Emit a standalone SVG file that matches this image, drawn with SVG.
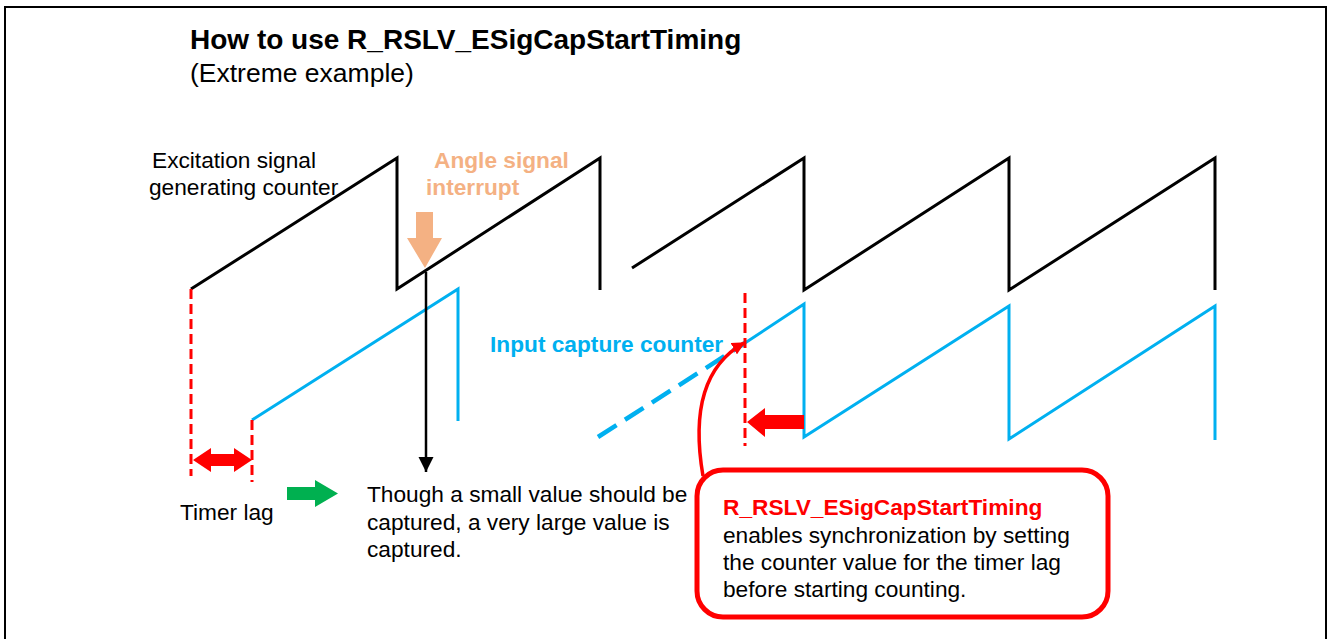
<svg xmlns="http://www.w3.org/2000/svg" width="1328" height="639" viewBox="0 0 1328 639">
<style>
  text { font-family: "Liberation Sans", Arial, sans-serif; font-size: 22.7px; fill: #000; }
  .b { font-weight: bold; }
  .blk { fill: none; stroke: #000; stroke-width: 3; stroke-linejoin: miter; }
  .blu { fill: none; stroke: #00B0F0; stroke-width: 3; }
  .blud { fill: none; stroke: #00B0F0; stroke-width: 4.5; stroke-dasharray: 22 10; }
  .rdash { fill: none; stroke: #FF0000; stroke-width: 3; stroke-dasharray: 10 5; }
</style>
<defs>
  <marker id="blackHead" viewBox="0 0 10 10" refX="10" refY="5" markerWidth="15" markerHeight="16" markerUnits="userSpaceOnUse" orient="auto">
    <path d="M0,0 L10,5 L0,10 z" fill="#000"/>
  </marker>
  <marker id="redHead" viewBox="0 0 10 10" refX="9" refY="5" markerWidth="13" markerHeight="13" markerUnits="userSpaceOnUse" orient="auto">
    <path d="M0,0 L10,5 L0,10 z" fill="#FF0000"/>
  </marker>
</defs>
<rect x="5" y="7" width="1321" height="650" fill="#fff" stroke="#000" stroke-width="2"/>

<g id="title">
  <text class="b" x="190" y="49" style="font-size:28px">How to use R_RSLV_ESigCapStartTiming</text>
  <text x="190" y="82" style="font-size:26.5px">(Extreme example)</text>
</g>

<g id="excitation-counter">
  <polyline class="blk" points="191,289 397,158 397,289 600,158 600,290"/>
  <polyline class="blk" points="632,268 804,158 804,290 1009,158 1009,290 1215,158 1215,290"/>
  <text x="152" y="168">Excitation signal</text>
  <text x="149" y="195">generating counter</text>
</g>

<g id="input-capture-counter">
  <polyline class="blu" points="252,420 458,289 458,421"/>
  <line class="blud" x1="598" y1="437" x2="745" y2="343"/>
  <polyline class="blu" points="745,343 804,304 804,437 1009,306 1009,439 1215,306 1215,440"/>
  <text class="b" x="490" y="352" style="fill:#00B0F0">Input capture counter</text>
</g>

<g id="angle-interrupt">
  <path d="M416,212 H433 V238 H442 L425,268 L407,238 H416 Z" fill="#F4B183"/>
  <text class="b" x="434" y="168" style="fill:#F4B183">Angle signal</text>
  <text class="b" x="426" y="195" style="fill:#F4B183">interrupt</text>
</g>

<g id="timer-lag">
  <line class="rdash" x1="191" y1="289" x2="191" y2="476"/>
  <line class="rdash" x1="252" y1="420" x2="252" y2="482"/>
  <path d="M193,460 L211,448 V454 H234 V448 L252,460 L234,472 V466 H211 V472 Z" fill="#FF0000"/>
  <text x="180" y="520">Timer lag</text>
</g>

<g id="result-note">
  <path d="M287,487 H315 V480 L338,493.5 L315,507 V500 H287 Z" fill="#00B050"/>
  <text x="367" y="502">Though a small value should be</text>
  <text x="367" y="530">captured, a very large value is</text>
  <text x="367" y="557">captured.</text>
</g>

<g id="sync-marker">
  <line class="rdash" x1="745" y1="293" x2="745" y2="446"/>
  <path d="M747,422 L765,408 V415 H804 V429 H765 V437 Z" fill="#FF0000"/>
</g>

<g id="connectors">
  <line x1="426" y1="272" x2="426" y2="472" stroke="#000" stroke-width="2.5" marker-end="url(#blackHead)"/>
  <path d="M703,476 C692,412 703,366 744,343" fill="none" stroke="#FF0000" stroke-width="3.5" marker-end="url(#redHead)"/>
</g>

<g id="callout">
  <rect x="697" y="470" width="411" height="147" rx="26" ry="26" fill="#fff" stroke="#FF0000" stroke-width="5"/>
  <text class="b" x="723" y="515" style="fill:#FF0000">R_RSLV_ESigCapStartTiming</text>
  <text x="723" y="543">enables synchronization by setting</text>
  <text x="723" y="570">the counter value for the timer lag</text>
  <text x="723" y="597">before starting counting.</text>
</g>
</svg>
